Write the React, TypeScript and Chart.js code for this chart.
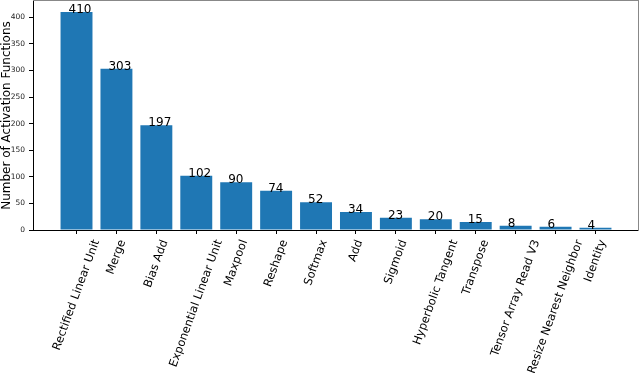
import React, { useEffect, useRef } from "react";
import { Chart, registerables } from "chart.js";

Chart.register(...registerables);

const categories: string[] = [
  "Rectified Linear Unit",
  "Merge",
  "Bias Add",
  "Exponential Linear Unit",
  "Maxpool",
  "Reshape",
  "Softmax",
  "Add",
  "Sigmoid",
  "Hyperbolic Tangent",
  "Transpose",
  "Tensor Array Read V3",
  "Resize Nearest Neighbor",
  "Identity",
];

const counts: number[] = [410, 303, 197, 102, 90, 74, 52, 34, 23, 20, 15, 8, 6, 4];

const yTickValues: number[] = [0, 50, 100, 150, 200, 250, 300, 350, 400];

const yAxisTitle = "Number of Activation Functions";

const FONT = '"DejaVu Sans", sans-serif';
const BAR_COLOR = "#1f77b4";

export default function App() {
  const canvasRef = useRef<HTMLCanvasElement | null>(null);

  useEffect(() => {
    document.body.style.margin = "0";
    const canvas = canvasRef.current;
    if (!canvas) return;

    const n = categories.length;
    const dataMin = -0.4;
    const dataMax = n - 1 + 0.4;
    const marg = 0.05 * (dataMax - dataMin);
    const yMax = Math.max(...counts) * 1.05;

    const labelsPlugin = {
      id: "mplLabels",
      afterDraw(chart: any) {
        const ctx = chart.ctx as CanvasRenderingContext2D;
        const area = chart.chartArea;
        const xs = chart.scales.x;
        const ys = chart.scales.y;
        ctx.save();
        // spines
        ctx.lineWidth = 1;
        ctx.strokeStyle = "#000";
        ctx.beginPath();
        ctx.moveTo(Math.round(area.left) + 0.5, Math.round(area.top));
        ctx.lineTo(Math.round(area.left) + 0.5, Math.round(area.bottom) + 1);
        ctx.moveTo(Math.round(area.left), Math.round(area.bottom) + 0.5);
        ctx.lineTo(Math.round(area.right), Math.round(area.bottom) + 0.5);
        ctx.stroke();
        ctx.strokeStyle = "#888";
        ctx.beginPath();
        ctx.moveTo(Math.round(area.left), 0.5);
        ctx.lineTo(Math.round(area.right), 0.5);
        ctx.moveTo(Math.round(area.right) - 0.5, 0);
        ctx.lineTo(Math.round(area.right) - 0.5, Math.round(area.bottom) + 1);
        ctx.stroke();

        // value labels (left-aligned at bar centre - 0.2)
        ctx.fillStyle = "#000";
        ctx.font = `12px ${FONT}`;
        ctx.textAlign = "left";
        ctx.textBaseline = "alphabetic";
        counts.forEach((v, i) => {
          const x = xs.getPixelForValue(i - 0.2);
          const y = ys.getPixelForValue(v);
          ctx.fillText(String(v), x, y + 1);
        });

        // rotated category labels (bbox centred under the tick)
        const fs = 11.5;
        ctx.font = `${fs}px ${FONT}`;
        const th = (70 * Math.PI) / 180;
        const top = area.bottom + 8;
        categories.forEach((lab, i) => {
          const w = ctx.measureText(lab).width;
          const h = fs * 1.17;
          const H = w * Math.sin(th) + h * Math.cos(th);
          const cx = xs.getPixelForValue(i);
          ctx.save();
          ctx.translate(cx, top + H / 2);
          ctx.rotate(-th);
          ctx.textAlign = "center";
          ctx.textBaseline = "middle";
          ctx.fillText(lab, 0, 0);
          ctx.restore();
        });
        ctx.restore();
      },
    };

    const chart = new Chart(canvas, {
      type: "bar",
      data: {
        datasets: [
          {
            data: counts.map((v, i) => ({ x: i, y: v })),
            backgroundColor: BAR_COLOR,
            borderWidth: 0,
            barPercentage: 0.8,
            categoryPercentage: 1.0,
          },
        ],
      },
      options: {
        responsive: false,
        animation: false,
        devicePixelRatio: 1,
        layout: { padding: { top: 1, right: 1, bottom: 0, left: 0 } },
        plugins: {
          legend: { display: false },
          tooltip: { enabled: false },
        },
        scales: {
          x: {
            type: "linear",
            offset: false,
            min: dataMin - marg,
            max: dataMax + marg,
            afterBuildTicks: (scale: any) => {
              scale.ticks = categories.map((_, i) => ({ value: i }));
            },
            afterFit: (scale: any) => {
              scale.height = 143;
              scale.paddingLeft = 0;
              scale.paddingRight = 0;
            },
            border: { display: false },
            grid: {
              offset: false,
              drawOnChartArea: false,
              drawTicks: true,
              tickLength: 4,
              tickColor: "#000",
            },
            ticks: { display: false },
          },
          y: {
            type: "linear",
            min: 0,
            max: yMax,
            afterBuildTicks: (scale: any) => {
              scale.ticks = yTickValues.map((v) => ({ value: v }));
            },
            afterFit: (scale: any) => {
              scale.width = 33;
              scale.paddingTop = 0;
              scale.paddingBottom = 0;
            },
            border: { display: false },
            grid: {
              drawOnChartArea: false,
              drawTicks: true,
              tickLength: 4,
              tickColor: "#000",
            },
            ticks: {
              color: "#222",
              padding: 4,
              font: { family: FONT, size: 7.5 },
            },
            title: {
              display: true,
              text: yAxisTitle,
              color: "#000",
              padding: 0,
              font: { family: FONT, size: 12 },
            },
          },
        },
      },
      plugins: [labelsPlugin],
    });

    return () => chart.destroy();
  }, []);

  return (
    <div style={{ position: "absolute", left: 0, top: 0, width: 640, height: 373 }}>
      <canvas ref={canvasRef} width={640} height={373} />
    </div>
  );
}
